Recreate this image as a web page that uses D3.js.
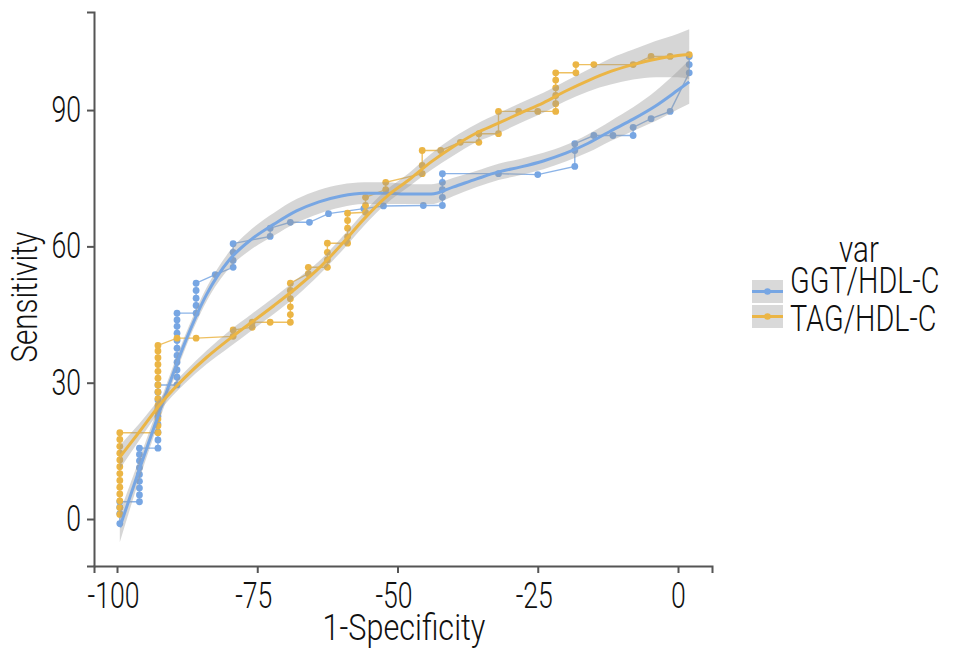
<!DOCTYPE html>
<html><head><meta charset="utf-8">
<script src="https://cdn.jsdelivr.net/npm/d3@7"></script>
<style>
html,body{margin:0;padding:0;background:#fff;}
text{font-family:Roboto,"Noto Sans",sans-serif;font-weight:300;fill:#111;}
</style></head>
<body><svg id="c" width="975" height="650"></svg>
<script>
// ---------- data ----------
const seriesNames = ["GGT/HDL-C", "TAG/HDL-C"];
const xTicks = [-100, -75, -50, -25, 0];
const yTicks = [0, 30, 60, 90];
const xTitle = "1-Specificity";
const yTitle = "Sensitivity";
const legendTitle = "var";

const ggtX = [-99.5,-99.5,-99.5,-99.5,
  -96,-96,-96,-96,-96,-96,-96,-96,-96,
  -92.7,-92.7,-92.7,-92.7,-92.7,-92.7,-92.7,-92.7,-92.7,
  -89.3,-89.3,-89.3,-89.3,-89.3,-89.3,-89.3,-89.3,-89.3,-89.3,-89.3,
  -85.9,-85.9,-85.9,-85.9,-85.9,
  -82.5,
  -79.3,-79.3,-79.3,-79.3,
  -72.7,-72.7,
  -69.1,-65.7,-62.3,-56,-52.5,-45.4,
  -42,-42,-42,-42,-42,
  -32,-25,
  -18.4,-18.4,-18.4,
  -15,-11.6,-8,-8,-4.8,-1.4,
  2,2,2];
const ggtY = [-1,1.2,2.6,3.8,
  3.8,5.3,6.8,8.3,9.8,11.3,12.8,14.2,15.6,
  15.6,17.4,19.1,20.9,22.6,24.4,26.2,27.9,29.5,
  29.5,31.2,32.8,34.5,36,37.6,39.3,40.9,42.4,43.8,45.3,
  45.3,47,48.6,50.3,51.9,
  53.8,
  55.4,56.9,58.7,60.6,
  62.2,64,
  65.3,65.3,67.2,68.3,68.9,69,
  69,70.8,72.5,74.1,76,
  76,75.8,
  77.6,81.1,82.6,
  84.4,84.4,84.4,86.2,88.1,89.7,
  98.2,100,101.8];

const tagX = [-99.5,-99.5,-99.5,-99.5,-99.5,-99.5,-99.5,-99.5,-99.5,-99.5,-99.5,-99.5,-99.5,
  -92.7,-92.7,-92.7,-92.7,-92.7,-92.7,-92.7,-92.7,-92.7,-92.7,-92.7,-92.7,-92.7,-92.7,
  -89.3,-85.9,
  -79.3,-79.3,-75.9,-75.9,-72.7,
  -69.1,-69.1,-69.1,-69.1,-69.1,-69.1,
  -65.9,-65.9,
  -62.5,-62.5,-62.5,-62.5,
  -58.9,-58.9,-58.9,-58.9,-58.9,
  -55.7,-55.7,-55.7,
  -52.1,-52.1,
  -45.6,-45.6,-45.6,
  -42.3,-38.8,-35.5,-35.5,
  -32,-32,-28.4,-25,
  -21.8,-21.8,-21.8,-21.8,-21.8,-21.8,
  -18.2,-18.2,-15,-8,-4.8,-1.4,2];
const tagY = [1,2.5,4,5.5,7,8.5,10,11.5,13,14.5,16,17.5,19,
  19,20.5,22,23.5,25,26.5,28,29.5,31,32.5,34,35.5,37,38.2,
  39.8,39.8,
  40.2,41.6,42.2,43.3,43.3,
  43.3,45,46.7,48.5,50.3,51.9,
  54,55.4,
  55.4,57,58.7,60.7,
  60.7,62.1,64,65.7,67.3,
  67.5,69,70.8,
  72.5,74.1,
  76,77.8,81.1,
  81.1,82.9,82.9,84.8,
  84.8,89.7,89.7,89.7,
  89.7,91.4,93.2,94.9,96.6,98.2,
  98.2,100,100,100,101.8,101.8,102.2];

// smoothed fits and their band half widths
const fitX   = [-99.5,-96,-92,-88,-84,-80,-76,-72,-68,-64,-60,-56,-52,-48,-44,-40,-36,-32,-28,-24,-20,-16,-12,-8,-4,0,2];
const ggtFit = [-1.8,11.0,25.1,38.5,49.5,57.0,61.6,64.9,67.8,69.8,71.1,71.7,71.7,71.5,71.5,73.1,74.8,76.4,77.5,78.8,80.5,82.7,85.4,88.0,90.9,94.4,96.2];
const ggtSe  = [3.3,2.2,1.8,1.5,1.5,1.8,2.2,2.5,2.6,2.6,2.5,2.4,2.4,2.2,2.2,2.0,1.8,1.8,1.8,1.8,1.8,2.0,2.2,2.6,3.3,4.2,4.8];
const tagFit = [13.6,19.2,25.7,31.0,35.6,39.6,43.3,47.0,50.9,55.2,60.4,66.0,70.9,74.6,78.6,82.0,84.9,87.1,89.4,91.6,94.2,96.5,98.5,100.0,101.2,102.0,102.3];
const tagSe  = [2.6,1.8,1.3,1.3,1.5,1.8,1.8,1.8,1.8,1.5,1.5,1.5,1.5,1.5,1.8,2.0,2.0,2.2,2.2,2.2,2.2,2.4,2.9,3.3,4.0,4.8,5.5];

const colors = ["#77a6e3", "#ebb545"];

// ---------- chart ----------
const svg = d3.select("#c");
const x = d3.scaleLinear().domain([-104.1, 6.06]).range([94, 712]);
const y = d3.scaleLinear().domain([-10.34, 111.58]).range([566, 12]);

const series = [
  {name: seriesNames[0], pts: ggtX.map((v,i)=>[v, ggtY[i]]), fit: fitX.map((v,i)=>[v, ggtFit[i], ggtSe[i]]), color: colors[0]},
  {name: seriesNames[1], pts: tagX.map((v,i)=>[v, tagY[i]]), fit: fitX.map((v,i)=>[v, tagFit[i], tagSe[i]]), color: colors[1]}
];

const g = svg.append("g");
const path = d3.line().x(d=>x(d[0])).y(d=>y(d[1]));
series.forEach(s=>{
  g.append("path").attr("d", path(s.pts)).attr("fill","none")
   .attr("stroke", s.color).attr("stroke-width",1.4).attr("stroke-opacity",0.85);
});
series.forEach(s=>{
  g.append("g").selectAll("circle").data(s.pts).join("circle")
   .attr("cx", d=>x(d[0])).attr("cy", d=>y(d[1])).attr("r",3.4).attr("fill", s.color);
});
const area = d3.area().curve(d3.curveMonotoneX).x(d=>x(d[0])).y0(d=>y(d[1]-d[2])).y1(d=>y(d[1]+d[2]));
const fitLine = d3.line().curve(d3.curveMonotoneX).x(d=>x(d[0])).y(d=>y(d[1]));
series.forEach(s=>{
  g.append("path").attr("d", area(s.fit)).attr("fill","#999999").attr("fill-opacity",0.4);
  g.append("path").attr("d", fitLine(s.fit)).attr("fill","none").attr("stroke", s.color).attr("stroke-width",3);
});

function condense(sel, f){
  sel.each(function(){
    const w = this.getComputedTextLength();
    this.setAttribute("textLength", w*f);
    this.setAttribute("lengthAdjust","spacingAndGlyphs");
  });
}

const axisColor = "#555";
const xa = svg.append("g").attr("transform","translate(0,566)")
  .call(d3.axisBottom(x).tickValues(xTicks).tickSizeOuter(0).tickSize(7).tickPadding(9).tickFormat(d3.format("d")));
const ya = svg.append("g").attr("transform","translate(94,0)")
  .call(d3.axisLeft(y).tickValues(yTicks).tickSizeOuter(0).tickSize(7).tickPadding(6).tickFormat(d3.format("d")));
[xa, ya].forEach(a=>{
  a.select(".domain").attr("stroke", axisColor).attr("stroke-width",2);
  a.selectAll(".tick line").attr("stroke", axisColor).attr("stroke-width",2);
  a.selectAll(".tick text").attr("font-size",36).attr("font-family","Roboto").attr("fill","#111");
});
xa.selectAll(".tick text").text(d=>d<0 ? "-" + Math.abs(d) : d).attr("dx", d=>d<0 ? -4 : 0);
condense(xa.selectAll(".tick text"), 0.74);
condense(ya.selectAll(".tick text"), 0.74);

const xt = svg.append("text").attr("x", 404).attr("y", 640).attr("text-anchor","middle")
  .attr("font-size",36).text(xTitle);
condense(xt, 0.85);
const yt = svg.append("text").attr("transform","translate(37,297) rotate(-90)").attr("text-anchor","middle")
  .attr("font-size",36).text(yTitle);
condense(yt, 0.82);

// legend
const lg = svg.append("g");
const lt = lg.append("text").attr("x", 859).attr("y", 262).attr("text-anchor","middle").attr("font-size",36).text(legendTitle);
condense(lt, 0.82);
series.forEach((s,i)=>{
  const ky = 280 + i*25;
  lg.append("rect").attr("x",752).attr("y",ky).attr("width",31).attr("height",23).attr("fill","#d9d9d9");
  lg.append("line").attr("x1",752).attr("x2",783).attr("y1",ky+11.5).attr("y2",ky+11.5)
    .attr("stroke",s.color).attr("stroke-width",3);
  lg.append("circle").attr("cx",767.5).attr("cy",ky+11.5).attr("r",3.3).attr("fill",s.color);
  const t = lg.append("text").attr("x",790).attr("y",293 + i*37.5).attr("font-size",36).text(s.name);
  condense(t, 0.8);
});
</script></body></html>
